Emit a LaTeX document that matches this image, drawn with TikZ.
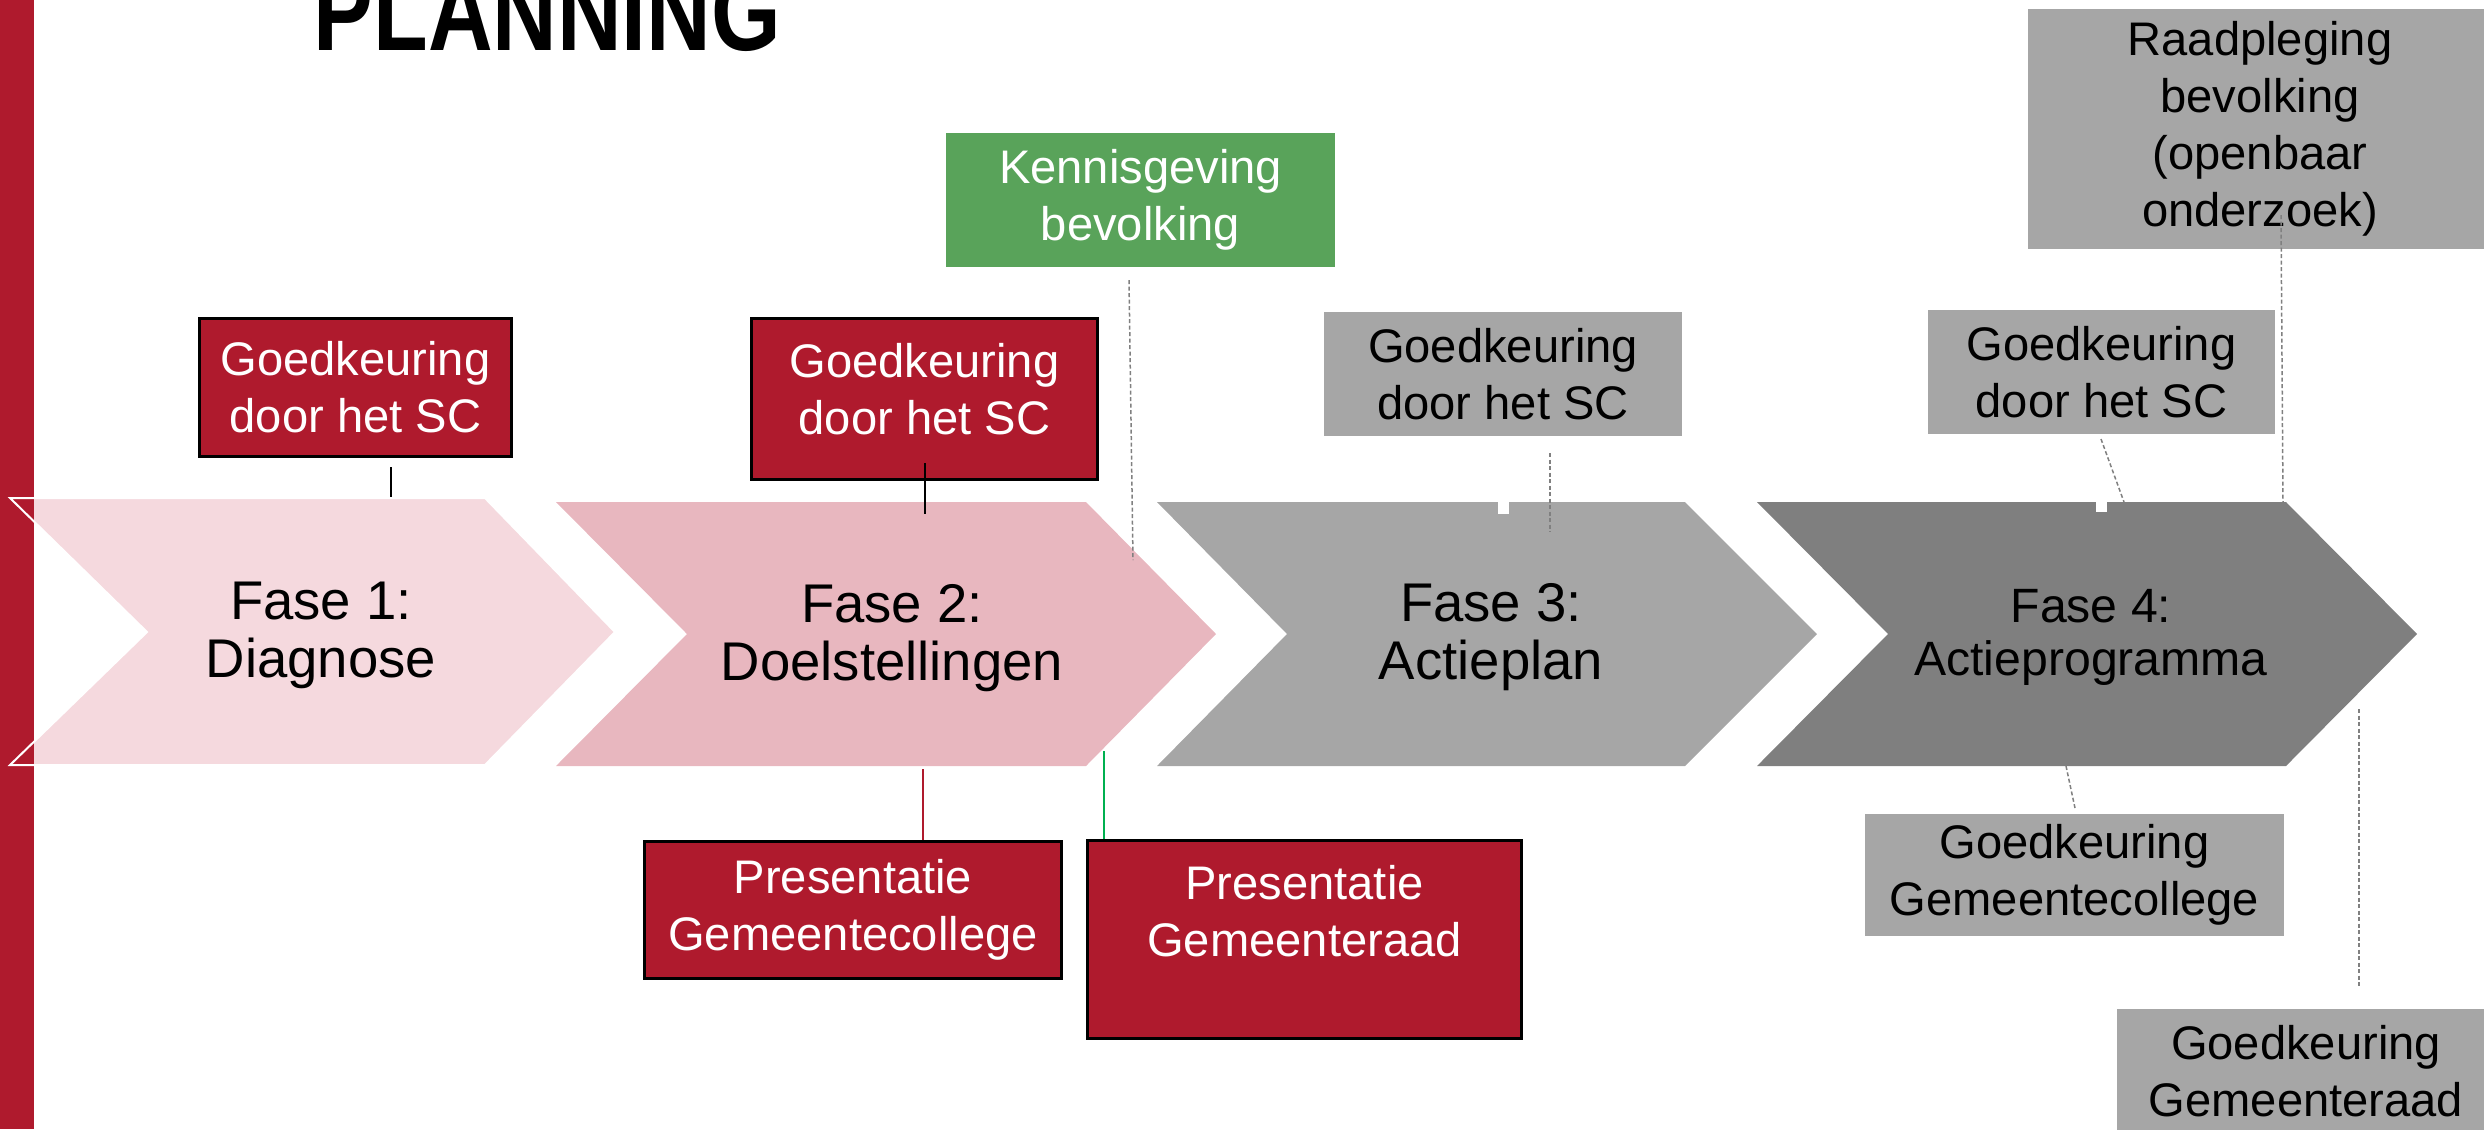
\documentclass[tikz,border=0pt]{standalone}
\usepackage{fontspec}
\setmainfont{Liberation Sans}
\usepackage{graphicx}
\definecolor{myred}{HTML}{AF1A2D}
\definecolor{pinkA}{HTML}{F5D9DE}
\definecolor{pinkB}{HTML}{E8B7BF}
\definecolor{grayA}{HTML}{A6A6A6}
\definecolor{grayB}{HTML}{7F7F7F}
\definecolor{kgreen}{HTML}{59A35A}
\definecolor{lgreen}{HTML}{00B050}
\definecolor{linegray}{HTML}{808080}
\begin{document}
\begin{tikzpicture}[x=0.01cm,y=-0.01cm,
  box/.style={rectangle, inner sep=0pt, align=center, font=\fontsize{13.4pt}{16.2pt}\selectfont},
  redbox/.style={box, fill=myred, draw=black, line width=0.85pt, text=white},
  graybox/.style={box, fill=grayA, text=black},
  greenbox/.style={box, fill=kgreen, text=white},
  btext/.style={inner sep=0pt, align=center, font=\fontsize{13.4pt}{16.2pt}\selectfont},
  fasetext/.style={inner sep=0pt, align=center, font=\fontsize{15.5pt}{16.5pt}\selectfont},
  dashconn/.style={draw=linegray, line width=0.015cm, dash pattern=on 0.04cm off 0.025cm},
  solidconn/.style={draw=black, line width=0.022cm},
  stubline/.style={draw=white, line width=0.11cm},
]
\useasboundingbox (0,0) rectangle (2484,1129);
\clip (0,0) rectangle (2484,1129);

% title
\node[anchor=base west, inner sep=0pt] (title) at (313,50) {\resizebox{4.67cm}{0.78cm}{\bfseries PLANNING}};

% chevrons
\fill[pinkA] (10,498) -- (485,498) -- (615,632) -- (485,765) -- (10,765) -- (147,632) -- cycle;
\fill[myred] (0,0) rectangle (34,1129);
\draw[white, line width=0.02cm, line join=miter] (10,498) -- (485,498) -- (615,632) -- (485,765) -- (10,765) -- (147,632) -- cycle;
\fill[pinkB] (556,502) -- (1086,502) -- (1216,634) -- (1086,766) -- (556,766) -- (687,634) -- cycle;
\fill[grayA] (1157,502) -- (1685,502) -- (1817,634) -- (1685,766) -- (1157,766) -- (1287,634) -- cycle;
\fill[grayB] (1757,502) -- (2286,502) -- (2417,634) -- (2286,766) -- (1757,766) -- (1888,634) -- cycle;

\node[fasetext, anchor=north] (f1) at (321,581) {Fase 1:\\Diagnose};
\node[fasetext, anchor=north] (f2) at (892,584) {Fase 2:\\Doelstellingen};
\node[fasetext, anchor=north] (f3) at (1491,583) {Fase 3:\\Actieplan};
\node[fasetext, font=\fontsize{13.7pt}{15.1pt}\selectfont, anchor=north] (f4) at (2091,589) {Fase 4:\\Actieprogramma};

% boxes
\node[redbox, minimum width=3.11cm, minimum height=1.37cm] (b1) at (355.5,387.5) {Goedkeuring\\door het SC};
\node[redbox, minimum width=3.45cm, minimum height=1.60cm] (b2) at (924.5,399) {};
\node[btext, text=white, anchor=north] (b2t) at (924.5,343) {Goedkeuring\\door het SC};
\node[greenbox, minimum width=3.89cm, minimum height=1.34cm] (kb) at (1140.5,200) {Kennisgeving\\bevolking};
\node[graybox, minimum width=3.58cm, minimum height=1.24cm] (b3) at (1503,374) {Goedkeuring\\door het SC};
\node[graybox, minimum width=4.64cm, minimum height=2.40cm] (rb) at (2260,129) {Raadpleging\\bevolking\\(openbaar\\onderzoek)};
\node[graybox, minimum width=3.47cm, minimum height=1.24cm] (b4) at (2101.5,372) {Goedkeuring\\door het SC};
\node[redbox, minimum width=4.16cm, minimum height=1.36cm] (p1) at (853,910) {Presentatie\\Gemeentecollege};
\node[redbox, minimum width=4.33cm, minimum height=1.97cm] (p2) at (1304.5,939.5) {};
\node[btext, text=white, anchor=north] (p2t) at (1304.5,865) {Presentatie\\Gemeenteraad};
\node[graybox, minimum width=4.19cm, minimum height=1.22cm] (gc) at (2074.5,875) {Goedkeuring\\Gemeentecollege};
\node[graybox, minimum width=3.78cm, minimum height=1.24cm] (gr) at (2306,1071) {Goedkeuring\\Gemeenteraad};

% connector end points
\coordinate (c1a) at (391,467);   \coordinate (c1b) at (391,497);
\coordinate (c2a) at (925,463);   \coordinate (c2b) at (925,514);
\coordinate (cka) at (1129,280);  \coordinate (ckb) at (1133,560);
\coordinate (c3a) at (1550,453);  \coordinate (c3b) at (1550,532);
\coordinate (s3) at (1503,514);
\coordinate (cra) at (2281,215);  \coordinate (crb) at (2283,502);
\coordinate (c4a) at (2101,439);  \coordinate (c4b) at (2124,502);
\coordinate (s4) at (2101.5,512);
\coordinate (cp1a) at (923,769);  \coordinate (cp1b) at (p1.north -| cp1a);
\coordinate (cp2a) at (1104,751); \coordinate (cp2b) at (p2.north -| cp2a);
\coordinate (cgca) at (2066,766); \coordinate (cgcb) at (2075,808);
\coordinate (cgra) at (2359,709); \coordinate (cgrb) at (2359,986);

% connectors
\draw[solidconn] (c1a) -- (c1b);
\draw[solidconn] (c2a) -- (c2b);
\draw[dashconn] (cka) -- (ckb);
\draw[stubline] (b3.south) -- (s3);
\draw[dashconn] (c3a) -- (c3b);
\draw[dashconn] (cra) -- (crb);
\draw[stubline] (b4.south) -- (s4);
\draw[dashconn] (c4a) -- (c4b);
\draw[draw=myred, line width=0.015cm] (cp1a) -- (cp1b);
\draw[draw=lgreen, line width=0.02cm] (cp2a) -- (cp2b);
\draw[dashconn] (cgca) -- (cgcb);
\draw[dashconn] (cgra) -- (cgrb);
\end{tikzpicture}
\end{document}
